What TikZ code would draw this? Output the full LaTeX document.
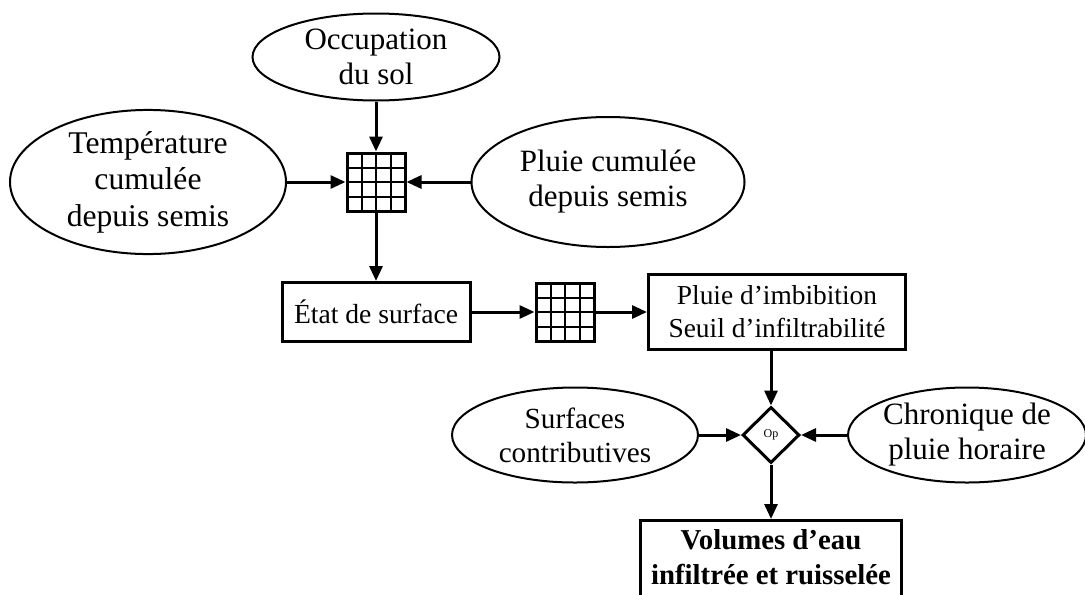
\documentclass[tikz,border=0pt]{standalone}
\usepackage{fontspec}
\setmainfont{Liberation Serif}
\usetikzlibrary{arrows.meta,positioning,shapes.geometric,calc}

\begin{document}
\begin{tikzpicture}[x=0.5pt,y=-0.5pt,>={Triangle[length=7.5pt,width=6.5pt]},
  font=\fontsize{15.5}{17.5}\selectfont,
  input/.style={draw,ellipse,line width=1pt,inner sep=0pt,align=center},
  box/.style={draw,line width=1.5pt,inner sep=0pt,align=center},
  grid/.style={draw,line width=1.5pt,minimum size=29pt,inner sep=0pt,
    path picture={\foreach \k in {1,2,3}{
      \draw[line width=1pt]
        ($(path picture bounding box.north west)!\k/4!(path picture bounding box.north east)$) --
        ($(path picture bounding box.south west)!\k/4!(path picture bounding box.south east)$);
      \draw[line width=1pt]
        ($(path picture bounding box.north west)!\k/4!(path picture bounding box.south west)$) --
        ($(path picture bounding box.north east)!\k/4!(path picture bounding box.south east)$);}}},
  oper/.style={draw,diamond,line width=1.5pt,inner sep=0pt,minimum width=28.5pt,
    minimum height=28pt,font=\fontsize{6}{7}\selectfont},
  flow/.style={->,line width=1.5pt}]
\useasboundingbox (0,0) rectangle (1085,594);
\node[input,minimum width=123.5pt,minimum height=43.5pt] (occ) at (376,57) {Occupation\\du sol};
\node[input,minimum width=138pt,minimum height=65pt,font=\fontsize{15.8}{18.3}\selectfont] (temp) at (148,182) {Température\\cumulée\\depuis semis};
\node[input,minimum width=136.5pt,minimum height=65pt] (pluie) at (608,182) {Pluie cumulée\\depuis semis};
\node[grid] (g1) at (376,182) {};
\node[box,minimum width=94pt,minimum height=29.5pt,font=\fontsize{13.8}{16}\selectfont] (etat) at (376,312) {État de surface};
\node[grid] (g2) at (565,312) {};
\node[box,minimum width=128.5pt,minimum height=37.5pt,font=\fontsize{13.7}{16.5}\selectfont] (imbib) at (777,312) {Pluie d’imbibition\\Seuil d’infiltrabilité};
\node[oper] (op) at (771,435) {Op};
\node[input,minimum width=123pt,minimum height=47.5pt,font=\fontsize{14.6}{17}\selectfont] (surf) at (575,435) {Surfaces\\contributives};
\node[input,minimum width=119pt,minimum height=47.5pt] (chron) at (967,435) {Chronique de\\pluie horaire};
\node[box,anchor=north,minimum width=130.5pt,inner ysep=4.5pt,text depth=14pt,font=\fontsize{14.4}{17.5}\selectfont\bfseries] (vol) at (771,519) {Volumes d’eau\\infiltrée et ruisselée};
\draw[flow] (occ) -- (g1);
\draw[flow] (temp) -- (g1);
\draw[flow] (pluie) -- (g1);
\draw[flow] (g1) -- (etat);
\draw[flow] (etat) -- (g2);
\draw[flow] (g2) -- (imbib);
\draw[flow] (op |- imbib.south) -- (op);
\draw[flow] (surf) -- (op);
\draw[flow] (chron) -- (op);
\draw[flow] (op) -- (vol);
\end{tikzpicture}
\end{document}
